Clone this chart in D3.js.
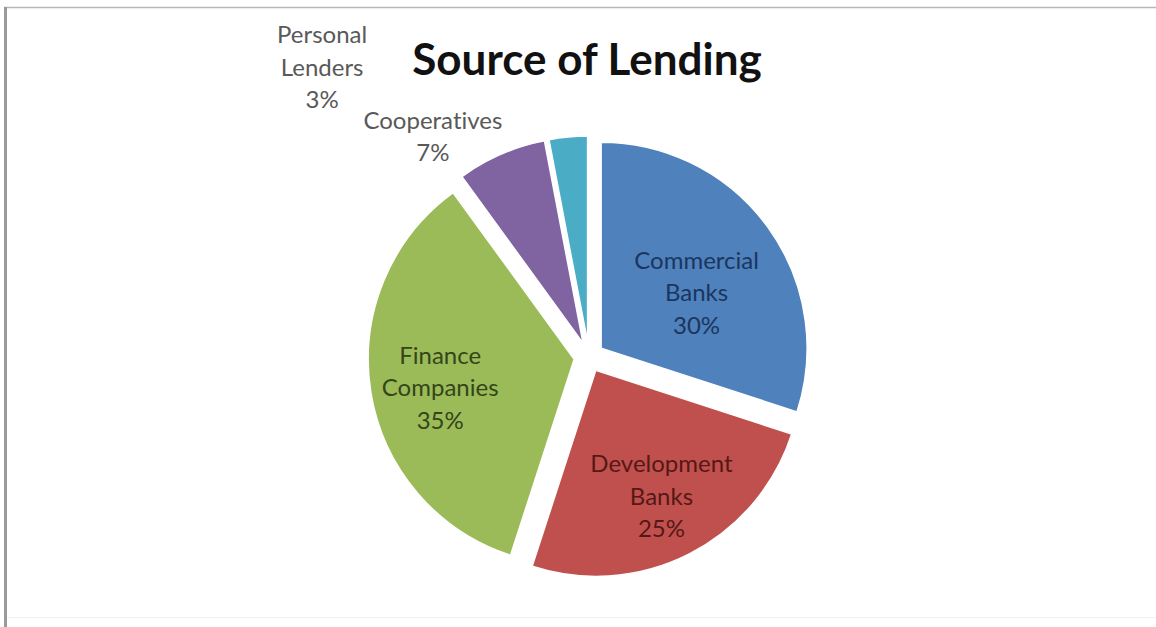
<!DOCTYPE html>
<html>
<head>
<meta charset="utf-8">
<script src="https://cdn.jsdelivr.net/npm/d3@7"></script>
<style>
  html, body { margin: 0; padding: 0; background: #fff; }
  svg { display: block; }
  text { font-family: Lato, "Open Sans", sans-serif; font-variant-ligatures: none; }
</style>
</head>
<body>
<svg id="chart" width="1156" height="627"></svg>
<script>
// Lending sources and their shares (percent)
const categories = ["Commercial Banks", "Development Banks", "Finance Companies", "Cooperatives", "Personal Lenders"];
const shares = [30, 25, 35, 7, 3];
const labelLines = [["Commercial", "Banks"], ["Development", "Banks"], ["Finance", "Companies"], ["Cooperatives"], ["Personal", "Lenders"]];
const sliceColors = ["#4F81BD", "#C0504D", "#9BBB59", "#8064A2", "#4BACC6"];
const labelColors = ["#1b365e", "#561816", "#34451a", "#595959", "#595959"];
const title = "Source of Lending";

const W = 1156, H = 627;
const cx = 589, cy = 357, R = 206, explode = 15;

// Label placement: angle (deg, clockwise from 12 o'clock) and distance as a fraction of R
const labelPlacement = [
  { a: 60, r: 0.535 },
  { a: 152.5, r: 0.69 },
  { a: 258, r: 0.665 },
  { a: 324, r: 1.24 },
  { a: 316, r: 1.855 }
];

const svg = d3.select("#chart");

// frame
svg.append("rect").attr("x", 0).attr("y", 0).attr("width", W).attr("height", H).attr("fill", "#fff");
svg.append("line").attr("x1", 4).attr("x2", W).attr("y1", 7.5).attr("y2", 7.5)
  .attr("stroke", "#b8b8b8").attr("stroke-width", 1.5);
svg.append("line").attr("x1", 5.5).attr("x2", 5.5).attr("y1", 7).attr("y2", H)
  .attr("stroke", "#9a9a9a").attr("stroke-width", 3);
svg.append("line").attr("x1", 7).attr("x2", W).attr("y1", 617.5).attr("y2", 617.5)
  .attr("stroke", "#f2f2f2").attr("stroke-width", 1);

// title
svg.append("text")
  .attr("x", 587).attr("y", 75)
  .attr("text-anchor", "middle")
  .attr("font-size", 44).attr("font-weight", 700)
  .attr("fill", "#111")
  .text(title);

const pie = d3.pie().sort(null).value(d => d).startAngle(0).endAngle(2 * Math.PI);
const arcs = pie(shares);
const arc = d3.arc().innerRadius(0).outerRadius(R);

const g = svg.append("g").attr("transform", `translate(${cx},${cy})`);

g.selectAll("path.slice")
  .data(arcs)
  .join("path")
  .attr("class", "slice")
  .attr("transform", d => {
    const m = (d.startAngle + d.endAngle) / 2;
    return `translate(${explode * Math.sin(m)},${-explode * Math.cos(m)})`;
  })
  .attr("d", arc)
  .attr("fill", (d, i) => sliceColors[i])
  .attr("stroke", "#fff")
  .attr("stroke-width", 1.5);

// data labels
const lineH = 32.5;
arcs.forEach((d, i) => {
  const m = (d.startAngle + d.endAngle) / 2;
  const ox = explode * Math.sin(m), oy = -explode * Math.cos(m);
  const p = labelPlacement[i];
  const a = p.a * Math.PI / 180;
  const lx = ox + p.r * R * Math.sin(a);
  const ly = oy - p.r * R * Math.cos(a);
  const lines = labelLines[i].concat([d3.format(".0%")(d.data / 100)]);
  const y0 = ly - (lines.length - 1) * lineH / 2;
  const t = g.append("text")
    .attr("text-anchor", "middle")
    .attr("font-size", 24)
    .attr("fill", labelColors[i]);
  lines.forEach((s, k) => {
    t.append("tspan").attr("x", lx).attr("y", y0 + k * lineH).attr("dy", "0.35em").text(s);
  });
});
</script>
</body>
</html>
